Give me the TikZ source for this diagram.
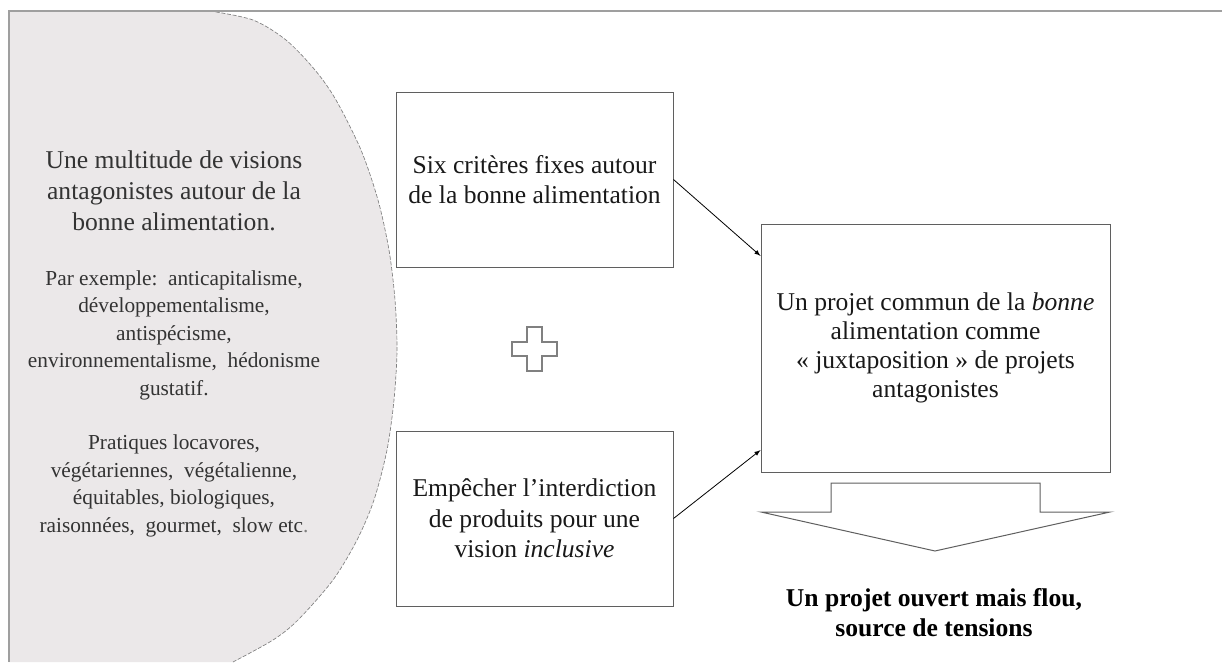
\documentclass[tikz,border=0pt]{standalone}
\usepackage{fontspec}
\setmainfont{Liberation Serif}
\usetikzlibrary{arrows,calc}

\definecolor{lobegray}{RGB}{235,232,233}
\definecolor{boxline}{RGB}{95,95,95}

\tikzset{
  critbox/.style={draw=boxline, line width=0.75, fill=white, minimum width=207.75pt, minimum height=131.25pt, align=center, inner sep=0.75pt, text=black!90, font=\fontsize{19.2}{23}\selectfont},
  lobetext/.style={align=center, inner sep=0.75pt, text=black!80},
}
\newcommand{\lobeedge}{(210,11) (253,20) (286,40) (315,70) (336,100) (361,150) (378,200) (389,250) (395,300) (397,350) (394,400) (387,450) (374,500) (357,540) (333,580) (298,620) (273,640) (233,662)}

\begin{document}
\begin{tikzpicture}[x=0.75pt,y=0.75pt,yscale=-1,xscale=1]
\useasboundingbox (0,0) rectangle (1222,662);

%Shape: Left lobe
\fill [lobegray] (9,11) -- plot [smooth] coordinates {\lobeedge} -- (9,662) -- cycle;
\draw [gray, line width=0.5, dash pattern=on 3pt off 1.3pt] plot [smooth] coordinates {\lobeedge};

%Shape: Frame
\draw [gray!75, line width=1.2] (9,662) -- (9,11) -- (1222,11);

% Text Node
\node (visions) [lobetext, font=\fontsize{19.2}{23.25}\selectfont] at (174,191) {Une multitude de visions\\antagonistes autour de la\\bonne alimentation.};
% Text Node
\node (exemple) [lobetext, font=\fontsize{16}{20.6}\selectfont] at (174,335) {Par exemple:\ \ anticapitalisme,\\développementalisme,\\antispécisme,\\environnementalisme,\ \ hédonisme\\gustatif.};
% Text Node
\node (pratiques) [lobetext, font=\fontsize{16}{20.6}\selectfont] at (174,486) {Pratiques locavores,\\végétariennes,\ \ végétalienne,\\équitables, biologiques,\\raisonnées,\ \ gourmet,\ \ slow etc{\color{gray}.}};

%Shape: Rectangle
\node (criteres) [critbox] at (534.5,179.5) {Six critères fixes autour\\de la bonne alimentation};
%Shape: Rectangle
\node (empecher) [critbox] at (534.5,518.5) {Empêcher l’interdiction\\de produits pour une\\vision \textit{inclusive}};
%Shape: Rectangle
\node (projet) [critbox, minimum width=261.75pt, minimum height=186pt, font=\fontsize{19.2}{21.6}\selectfont] at (935.5,348) {Un projet commun de la \textit{bonne}\\alimentation comme\\« juxtaposition » de projets\\antagonistes};

%Shape: Cross
\draw [gray, line width=1] (527,327) -- (542,327) -- (542,342) -- (557,342) -- (557,356) -- (542,356) -- (542,371) -- (527,371) -- (527,356) -- (512,356) -- (512,342) -- (527,342) -- cycle;

%Straight Lines
\draw [-latex, line width=0.6] (criteres.east) -- ($(projet.north west)!0.13!(projet.south west)$);
%Straight Lines
\draw [-latex, line width=0.6] (empecher.east) -- ($(projet.north west)!0.91!(projet.south west)$);

%Shape: Down Arrow
\draw [boxline, fill=white, line width=0.75] (831,483) -- (1040,483) -- (1040,512) -- (1110,512) -- (935,551) -- (761,512) -- (831,512) -- cycle;

% Text Node
\node (flou) [align=center, inner sep=0.75pt, font=\fontsize{19.2}{22.5}\selectfont\bfseries] at (934,613) {Un projet ouvert mais flou,\\source de tensions};

\end{tikzpicture}
\end{document}
